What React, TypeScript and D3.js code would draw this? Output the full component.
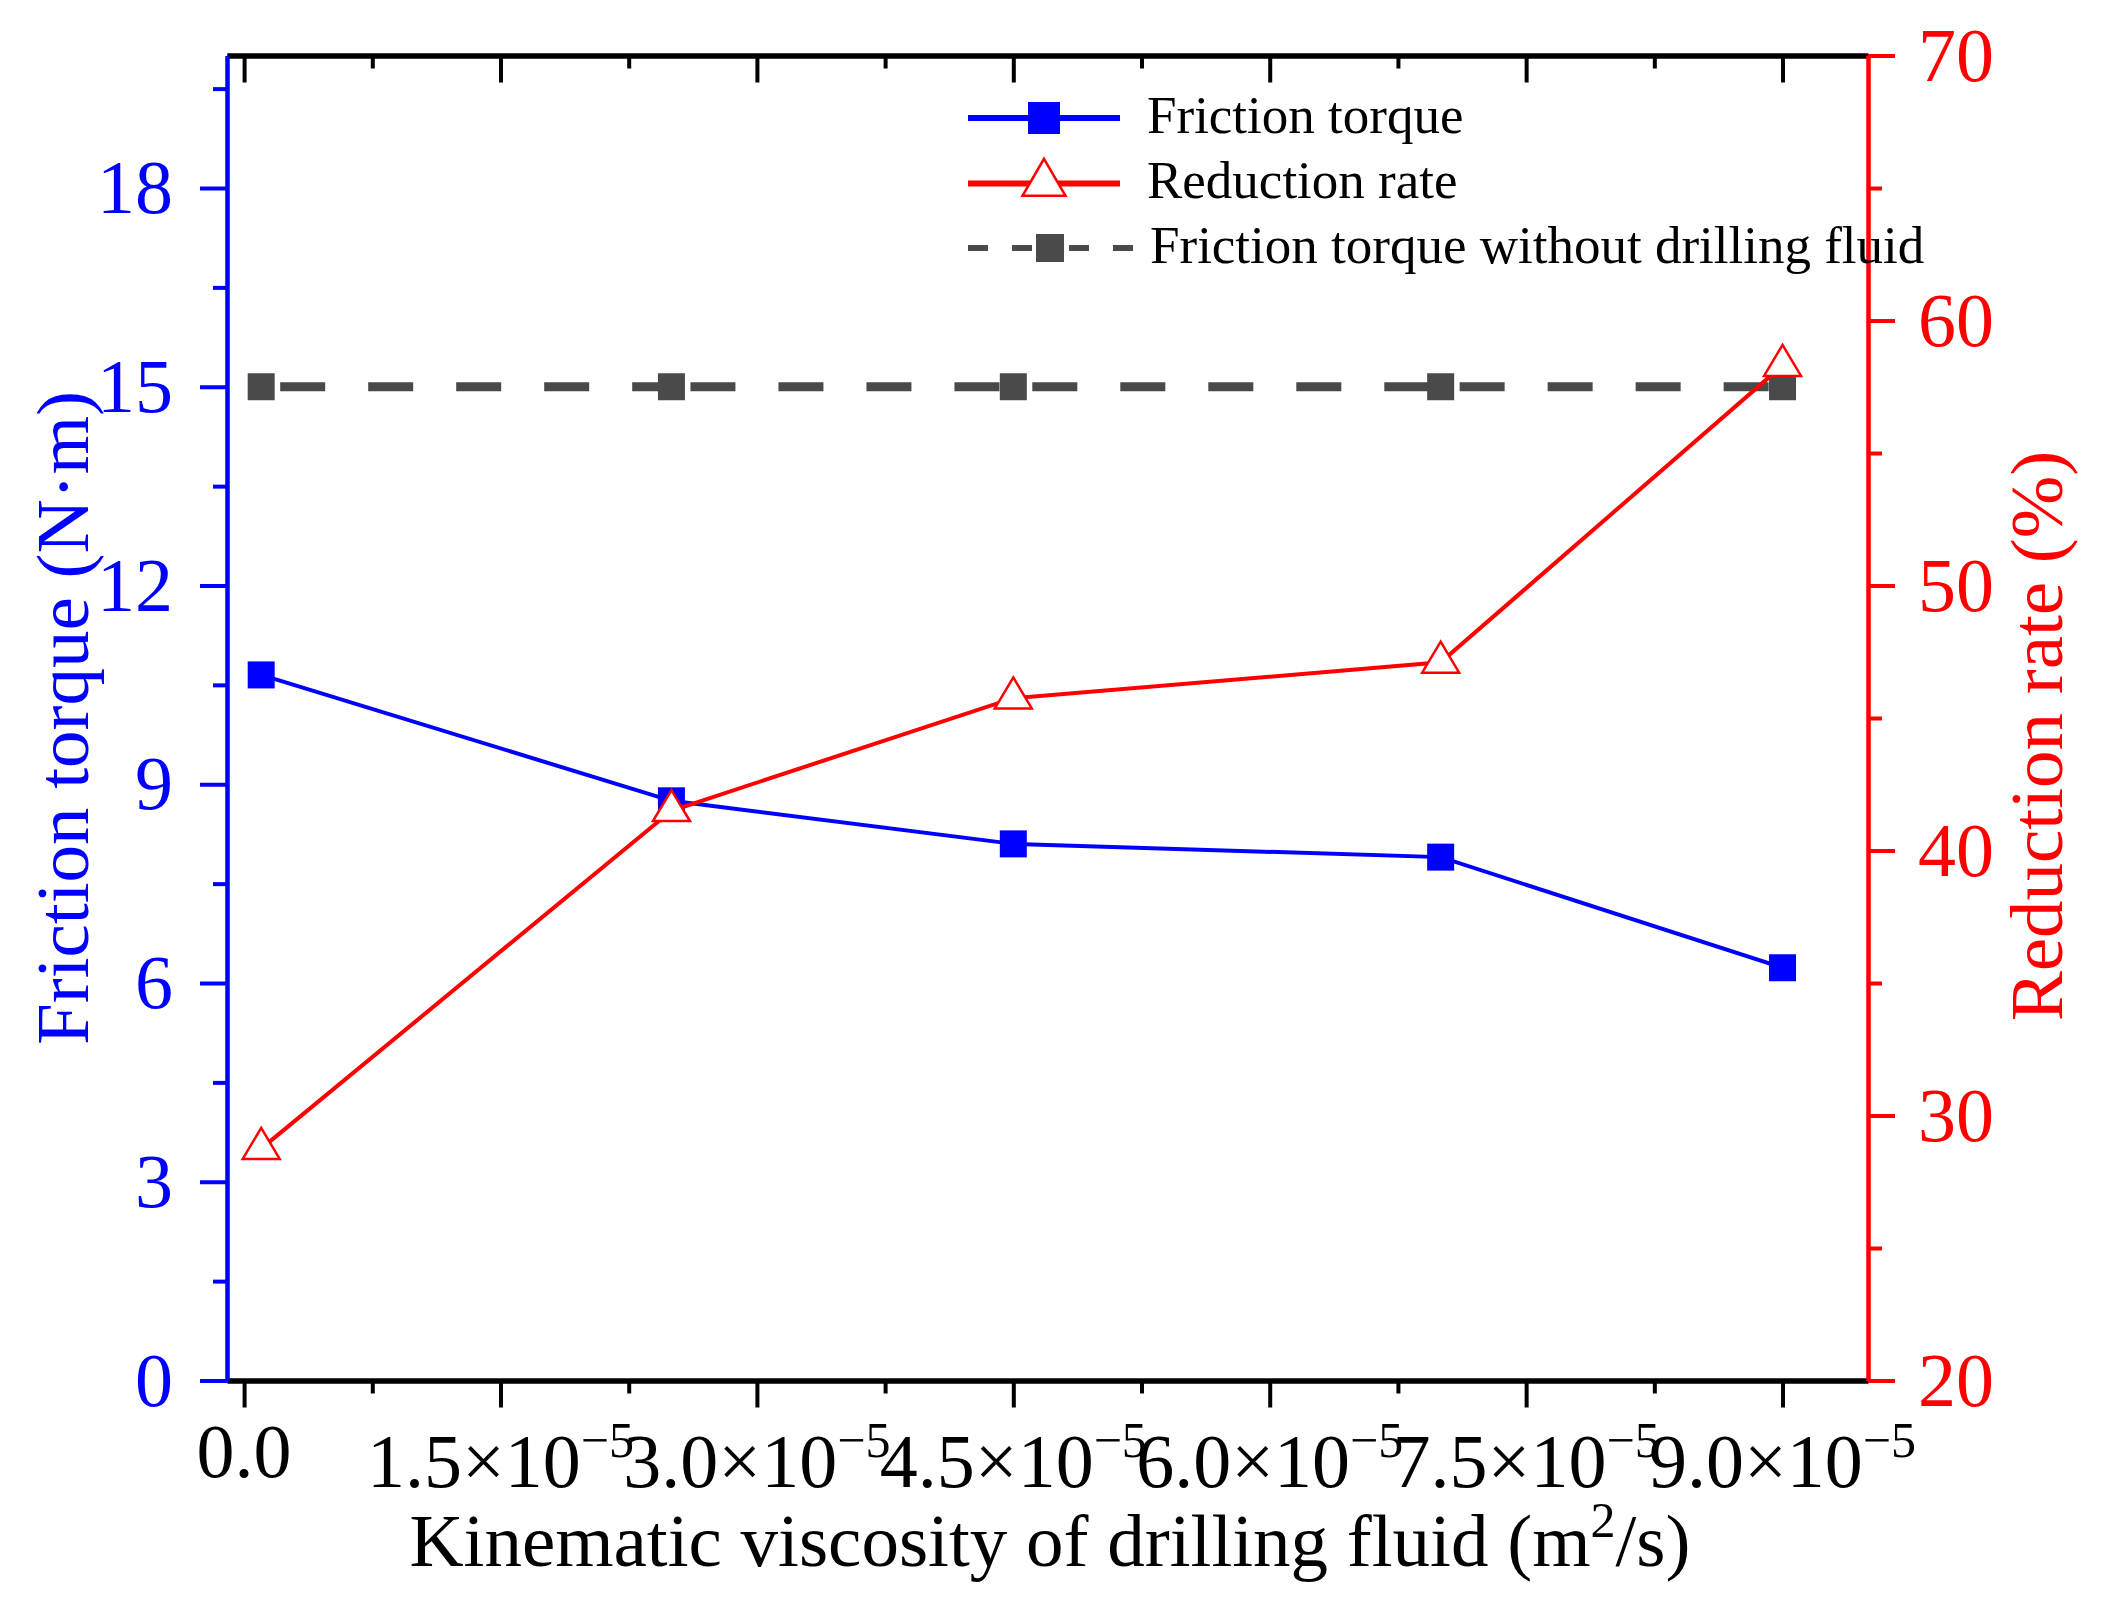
import React, { useEffect, useRef } from 'react';
import * as d3 from 'd3';

// kinematic viscosity of drilling fluid (m^2/s)
const viscosity = [0.1e-5, 2.5e-5, 4.5e-5, 7.0e-5, 9.0e-5];
// friction torque (N·m)
const frictionTorque = [10.65, 8.75, 8.1, 7.9, 6.23];
// reduction rate (%)
const reductionRate = [28.75, 41.5, 45.75, 47.1, 58.3];
// friction torque without drilling fluid (N·m)
const torqueWithoutFluid = [15, 15, 15, 15, 15];

const xTickValues = [0, 1.5e-5, 3.0e-5, 4.5e-5, 6.0e-5, 7.5e-5, 9.0e-5];
const xTickMantissas = ['0.0', '1.5', '3.0', '4.5', '6.0', '7.5', '9.0'];
const leftTickValues = [0, 3, 6, 9, 12, 15, 18];
const rightTickValues = [20, 30, 40, 50, 60, 70];
const legendLabels = ['Friction torque', 'Reduction rate', 'Friction torque without drilling fluid'];

const W = 2102;
const H = 1608;
const FONT = '"Liberation Serif", "Times New Roman", serif';
const BLUE = '#0000ff';
const RED = '#ff0000';
const GRAY = '#4a4a4a';

const Chart: React.FC = () => {
  const svgRef = useRef<SVGSVGElement>(null);

  useEffect(() => {
    if (!svgRef.current) return;
    const svg = d3.select(svgRef.current);
    svg.selectAll('*').remove();

    const left = 227;
    const right = 1868;
    const top = 55.5;
    const bottom = 1380.5;

    const x = d3.scaleLinear().domain([-0.1e-5, 9.5e-5]).range([left, right]);
    const yL = d3.scaleLinear().domain([0, 20]).range([bottom, top]);
    const yR = d3.scaleLinear().domain([20, 70]).range([bottom, top]);

    svg.append('rect').attr('width', W).attr('height', H).attr('fill', 'white');

    const xMinor = d3.range(0.75e-5, 9.5e-5, 1.5e-5);
    const yLMinor = d3.range(1.5, 20, 3);
    const yRMinor = d3.range(25, 70, 10);

    const styleAxis = (g: d3.Selection<SVGGElement, unknown, null, undefined>, color: string, width: number) => {
      g.selectAll('.domain').attr('stroke', color).attr('stroke-width', width);
      g.selectAll('.tick line').attr('stroke', color).attr('stroke-width', 4);
      g.selectAll('.tick text').remove();
    };

    // bottom axis
    const gBottomMinor = svg.append('g').attr('transform', `translate(0,${bottom})`)
      .call(d3.axisBottom(x).tickValues(xMinor).tickSize(13).tickSizeOuter(0).tickFormat(() => ''));
    styleAxis(gBottomMinor, 'black', 5);
    const gBottom = svg.append('g').attr('transform', `translate(0,${bottom})`)
      .call(d3.axisBottom(x).tickValues(xTickValues).tickSize(27).tickSizeOuter(0).tickFormat(() => ''));
    styleAxis(gBottom, 'black', 5);

    // top axis, ticks pointing inward
    const gTopMinor = svg.append('g').attr('transform', `translate(0,${top})`)
      .call(d3.axisTop(x).tickValues(xMinor).tickSize(-13).tickSizeOuter(0).tickFormat(() => ''));
    styleAxis(gTopMinor, 'black', 5);
    const gTop = svg.append('g').attr('transform', `translate(0,${top})`)
      .call(d3.axisTop(x).tickValues(xTickValues).tickSize(-27).tickSizeOuter(0).tickFormat(() => ''));
    styleAxis(gTop, 'black', 5);

    // left axis
    const gLeftMinor = svg.append('g').attr('transform', `translate(${left},0)`)
      .call(d3.axisLeft(yL).tickValues(yLMinor).tickSize(14).tickSizeOuter(0).tickFormat(() => ''));
    styleAxis(gLeftMinor, BLUE, 4);
    const gLeft = svg.append('g').attr('transform', `translate(${left},0)`)
      .call(d3.axisLeft(yL).tickValues(leftTickValues).tickSize(27).tickSizeOuter(0).tickFormat(() => ''));
    styleAxis(gLeft, BLUE, 4);

    // right axis
    const gRightMinor = svg.append('g').attr('transform', `translate(${right},0)`)
      .call(d3.axisRight(yR).tickValues(yRMinor).tickSize(14).tickSizeOuter(0).tickFormat(() => ''));
    styleAxis(gRightMinor, RED, 4);
    const gRight = svg.append('g').attr('transform', `translate(${right},0)`)
      .call(d3.axisRight(yR).tickValues(rightTickValues).tickSize(27).tickSizeOuter(0).tickFormat(() => ''));
    styleAxis(gRight, RED, 4);

    // tick labels
    svg.append('g')
      .selectAll('text')
      .data(leftTickValues)
      .enter()
      .append('text')
      .attr('x', left - 54)
      .attr('y', (d) => yL(d) + 25)
      .attr('text-anchor', 'end')
      .attr('font-family', FONT)
      .attr('font-size', 76)
      .attr('fill', BLUE)
      .text((d) => String(d));

    svg.append('g')
      .selectAll('text')
      .data(rightTickValues)
      .enter()
      .append('text')
      .attr('x', right + 50)
      .attr('y', (d) => yR(d) + 25)
      .attr('text-anchor', 'start')
      .attr('font-family', FONT)
      .attr('font-size', 76)
      .attr('fill', RED)
      .text((d) => String(d));

    const xLabels = svg.append('g')
      .selectAll('text')
      .data(xTickValues)
      .enter()
      .append('text')
      .attr('x', (d) => x(d))
      .attr('y', (d, i) => (i === 0 ? bottom + 96 : bottom + 106))
      .attr('text-anchor', 'middle')
      .attr('font-family', FONT)
      .attr('font-size', 76)
      .attr('fill', 'black');
    xLabels.each(function (d, i) {
      const t = d3.select(this);
      if (i === 0) {
        t.text(xTickMantissas[i]);
        return;
      }
      t.append('tspan').text(`${xTickMantissas[i]}\u00d710`);
      t.append('tspan').attr('dy', -30).attr('font-size', 50).text('\u22125');
    });

    // axis titles
    svg.append('text')
      .attr('transform', `translate(88,${(top + bottom) / 2}) rotate(-90)`)
      .attr('text-anchor', 'middle')
      .attr('font-family', FONT)
      .attr('font-size', 75)
      .attr('fill', BLUE)
      .text('Friction torque (N\u00b7m)');

    svg.append('text')
      .attr('transform', `translate(2062,736) rotate(-90)`)
      .attr('text-anchor', 'middle')
      .attr('font-family', FONT)
      .attr('font-size', 75)
      .attr('fill', RED)
      .text('Reduction rate (%)');

    const xTitle = svg.append('text')
      .attr('x', 1050)
      .attr('y', 1566)
      .attr('text-anchor', 'middle')
      .attr('font-family', FONT)
      .attr('font-size', 75)
      .attr('fill', 'black');
    xTitle.append('tspan').text('Kinematic viscosity of drilling fluid (m');
    xTitle.append('tspan').attr('dy', -29).attr('font-size', 50).text('2');
    xTitle.append('tspan').attr('dy', 29).text('/s)');

    const triangle = (cx: number, cy: number, w: number, h: number) =>
      `M${cx},${cy - (2 * h) / 3}L${cx + w / 2},${cy + h / 3}L${cx - w / 2},${cy + h / 3}Z`;

    // series: torque without drilling fluid
    const withoutPts = viscosity.map((v, i) => [x(v), yL(torqueWithoutFluid[i])] as [number, number]);
    svg.append('g')
      .selectAll('path')
      .data(d3.pairs(withoutPts))
      .enter()
      .append('path')
      .attr('d', (d) => d3.line()(d))
      .attr('fill', 'none')
      .attr('stroke', GRAY)
      .attr('stroke-width', 9)
      .attr('stroke-dasharray', '45 43')
      .attr('stroke-dashoffset', 69);
    svg.append('g')
      .selectAll('rect')
      .data(withoutPts)
      .enter()
      .append('rect')
      .attr('x', (d) => d[0] - 13.5)
      .attr('y', (d) => d[1] - 13.5)
      .attr('width', 27)
      .attr('height', 27)
      .attr('fill', GRAY);

    // series: friction torque
    const torquePts = viscosity.map((v, i) => [x(v), yL(frictionTorque[i])] as [number, number]);
    svg.append('path')
      .attr('d', d3.line()(torquePts))
      .attr('fill', 'none')
      .attr('stroke', BLUE)
      .attr('stroke-width', 4);
    svg.append('g')
      .selectAll('rect')
      .data(torquePts)
      .enter()
      .append('rect')
      .attr('x', (d) => d[0] - 13.5)
      .attr('y', (d) => d[1] - 13.5)
      .attr('width', 27)
      .attr('height', 27)
      .attr('fill', BLUE);

    // series: reduction rate
    const ratePts = viscosity.map((v, i) => [x(v), yR(reductionRate[i])] as [number, number]);
    svg.append('path')
      .attr('d', d3.line()(ratePts))
      .attr('fill', 'none')
      .attr('stroke', RED)
      .attr('stroke-width', 4);
    svg.append('g')
      .selectAll('path')
      .data(ratePts)
      .enter()
      .append('path')
      .attr('d', (d) => triangle(d[0], d[1], 37, 31))
      .attr('fill', 'white')
      .attr('stroke', RED)
      .attr('stroke-width', 2.5);

    // legend
    const legend = svg.append('g').attr('font-family', FONT).attr('font-size', 53).attr('fill', 'black');
    const rowY = [118, 183.5, 248];
    const lx0 = 968;
    const lx1 = 1120;

    legend.append('line').attr('x1', lx0).attr('x2', lx1).attr('y1', rowY[0]).attr('y2', rowY[0])
      .attr('stroke', BLUE).attr('stroke-width', 6);
    legend.append('rect').attr('x', 1044 - 16).attr('y', rowY[0] - 16).attr('width', 32).attr('height', 32)
      .attr('fill', BLUE);
    legend.append('text').attr('x', 1147).attr('y', rowY[0] + 15).text(legendLabels[0]);

    legend.append('line').attr('x1', lx0).attr('x2', lx1).attr('y1', rowY[1]).attr('y2', rowY[1])
      .attr('stroke', RED).attr('stroke-width', 6);
    legend.append('path').attr('d', triangle(1044, rowY[1], 43, 37))
      .attr('fill', 'white').attr('stroke', RED).attr('stroke-width', 2.5);
    legend.append('text').attr('x', 1147).attr('y', rowY[1] + 14).text(legendLabels[1]);

    legend.append('line').attr('x1', lx0).attr('x2', 1038).attr('y1', rowY[2]).attr('y2', rowY[2])
      .attr('stroke', GRAY).attr('stroke-width', 6).attr('stroke-dasharray', '20 24');
    legend.append('line').attr('x1', 1133).attr('x2', 1066).attr('y1', rowY[2]).attr('y2', rowY[2])
      .attr('stroke', GRAY).attr('stroke-width', 6).attr('stroke-dasharray', '20 24');
    legend.append('rect').attr('x', 1050 - 14).attr('y', rowY[2] - 14).attr('width', 28).attr('height', 28)
      .attr('fill', GRAY);
    legend.append('text').attr('x', 1150).attr('y', rowY[2] + 15).text(legendLabels[2]);
  }, []);

  return (
    <svg
      ref={svgRef}
      width={W}
      height={H}
      style={{ position: 'absolute', left: 0, top: 0, display: 'block' }}
    ></svg>
  );
};

export default function App() {
  return <Chart />;
}
